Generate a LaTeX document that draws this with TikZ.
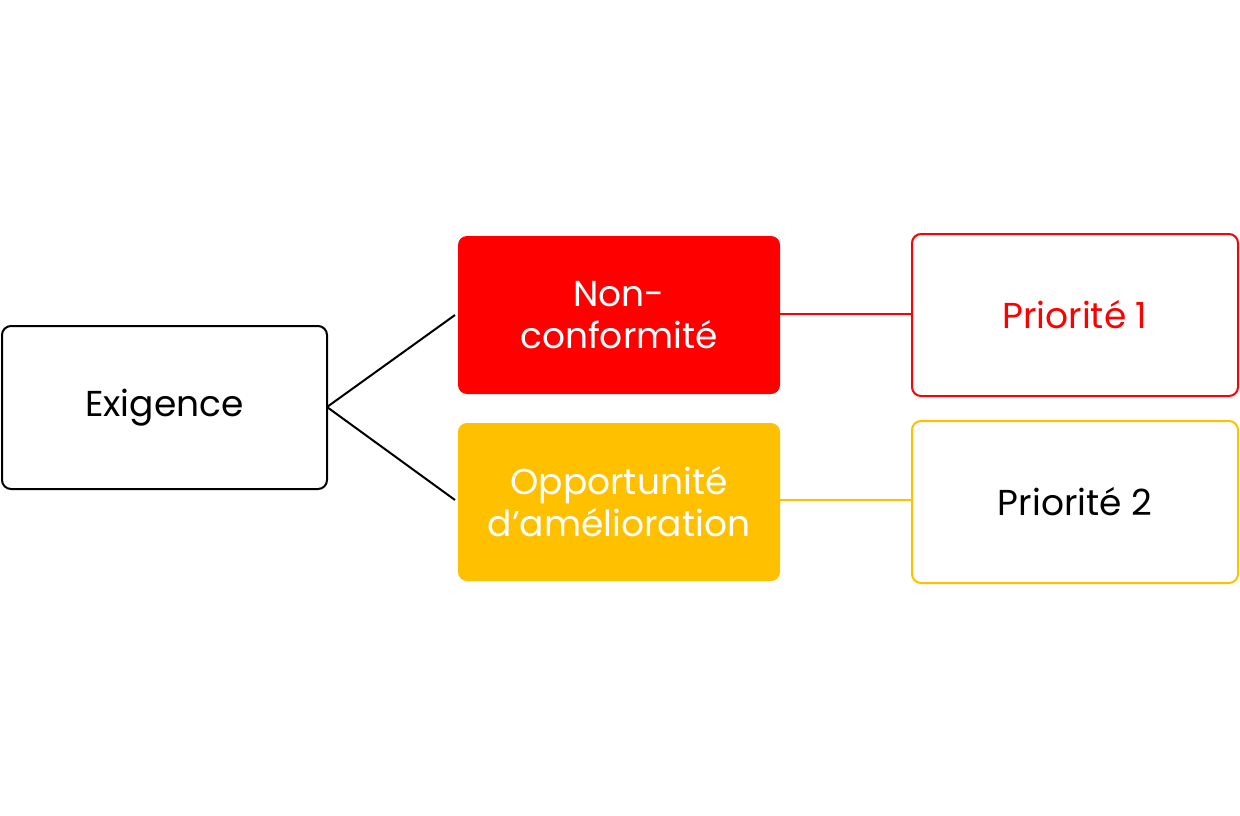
\documentclass[tikz,border=0pt]{standalone}
\usepackage{fontspec}
\setmainfont{Poppins}
\definecolor{gold}{HTML}{FFC000}
\begin{document}
\begin{tikzpicture}[x=1pt,y=-1pt,
  box/.style={rounded corners=9pt,line width=2pt,align=center,font=\fontsize{36}{42}\selectfont},
]
\useasboundingbox (0,0) rectangle (1240,815);
\draw[box,draw=black] (2,326) rectangle (327,489);
\node (ex) at (164.5,407.5) {\fontsize{36}{42}\selectfont Exigence};
\fill[rounded corners=9pt,red] (458,236) rectangle (780,394);
\node[align=center,white,font=\fontsize{36}{42}\selectfont] (nc) at (619,315) {Non-\\conformité};
\fill[rounded corners=9pt,gold] (458,423) rectangle (780,581);
\node[align=center,white,font=\fontsize{36}{42}\selectfont] (op) at (619,502) {Opportunité\\d’amélioration};
\draw[box,draw=red] (912,234) rectangle (1238,396);
\node[red,font=\fontsize{36}{42}\selectfont] (p1) at (1075,315) {Priorité 1};
\draw[box,draw=gold] (912,421) rectangle (1238,583);
\node[font=\fontsize{36}{42}\selectfont] (p2) at (1075,502) {Priorité 2};
\coordinate (e) at (327,407);
\coordinate (a) at (455,315);
\coordinate (b) at (455,500);
\draw[line width=2pt] (e) -- (a);
\draw[line width=2pt] (e) -- (b);
\draw[red,line width=2pt] (780,314) -- (912,314);
\draw[gold,line width=2pt] (780,500) -- (912,500);
\end{tikzpicture}
\end{document}
